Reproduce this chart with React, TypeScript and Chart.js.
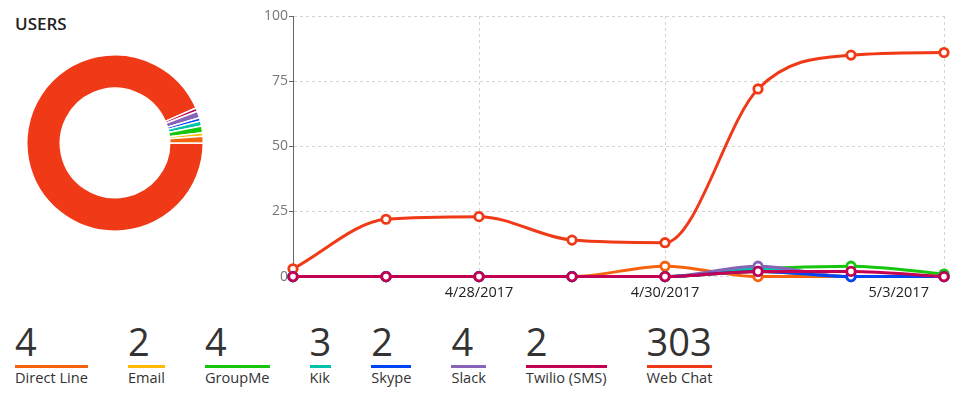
import React, { useEffect, useRef } from 'react';
import { Chart, registerables } from 'chart.js';

Chart.register(...registerables);

const channels = ['Direct Line', 'Email', 'GroupMe', 'Kik', 'Skype', 'Slack', 'Twilio (SMS)', 'Web Chat'];
const userTotals = [4, 2, 4, 3, 2, 4, 2, 303];
const channelColors = ['#F7630C', '#FFB900', '#16C60C', '#00C4A7', '#0045F5', '#8764B8', '#C30052', '#F03A17'];
// lower value = drawn on top
const drawOrder = [6, 5, 4, 3, 1, 2, 0, 10];

const dates = ['4/26/2017', '4/27/2017', '4/28/2017', '4/29/2017', '4/30/2017', '5/1/2017', '5/2/2017', '5/3/2017'];
const shownDates = ['4/28/2017', '4/30/2017', '5/3/2017'];
const yTicks = [0, 25, 50, 75, 100];

const directLine = [0, 0, 0, 0, 4, 0, 0, 0];
const email = [0, 0, 0, 0, 0, 2, 0, 0];
const groupMe = [0, 0, 0, 0, 0, 3, 4, 1];
const kik = [0, 0, 0, 0, 0, 3, 0, 0];
const skype = [0, 0, 0, 0, 0, 2, 0, 0];
const slack = [0, 0, 0, 0, 0, 4, 0, 0];
const twilio = [0, 0, 0, 0, 0, 2, 2, 0];
const webChat = [3, 22, 23, 14, 13, 72, 85, 86];
const series = [directLine, email, groupMe, kik, skype, slack, twilio, webChat];

const FONT = "'Open Sans', 'Noto Sans', sans-serif";

export default function App() {
  const donutRef = useRef<HTMLCanvasElement | null>(null);
  const lineRef = useRef<HTMLCanvasElement | null>(null);

  useEffect(() => {
    const donut = new Chart(donutRef.current as HTMLCanvasElement, {
      type: 'doughnut',
      data: {
        labels: [...channels].reverse(),
        datasets: [
          {
            data: [...userTotals].reverse(),
            backgroundColor: [...channelColors].reverse(),
            borderColor: '#ffffff',
            borderWidth: 1.5,
            hoverOffset: 0,
          },
        ],
      },
      options: {
        responsive: false,
        animation: false,
        rotation: 90,
        cutout: '62%',
        layout: { padding: 0 },
        plugins: { legend: { display: false }, tooltip: { enabled: false } },
      },
    });

    const line = new Chart(lineRef.current as HTMLCanvasElement, {
      type: 'line',
      data: {
        labels: dates,
        datasets: series.map((d, i) => ({
          label: channels[i],
          data: d,
          borderColor: channelColors[i],
          backgroundColor: channelColors[i],
          pointBackgroundColor: '#ffffff',
          pointBorderColor: channelColors[i],
          pointRadius: 4.2,
          pointBorderWidth: 2.8,
          borderWidth: 3,
          cubicInterpolationMode: 'monotone',
          fill: false,
          clip: false as any,
          order: drawOrder[i],
        })),
      },
      options: {
        responsive: false,
        maintainAspectRatio: false,
        animation: false,
        layout: { padding: { left: 0, right: 18, top: 16, bottom: 0 } },
        plugins: { legend: { display: false }, tooltip: { enabled: false } },
        scales: {
          x: {
            grid: {
              color: (c: any) => (shownDates.includes(dates[c.index]) ? '#d4d4d4' : 'rgba(0,0,0,0)'),
              drawTicks: false,
              lineWidth: 1,
            },
            border: { display: false, dash: [3, 3] },
            ticks: {
              autoSkip: false,
              maxRotation: 0,
              minRotation: 0,
              align: 'inner',
              padding: 8,
              color: '#222222',
              font: { family: FONT, size: 14.5 },
              callback: (_v: any, i: number) =>
                shownDates.includes(dates[i]) ? (i === dates.length - 1 ? dates[i] + '    ' : dates[i]) : '',
            },
          },
          y: {
            min: 0,
            max: 100,
            afterBuildTicks: (s: any) => {
              s.ticks = yTicks.map((v) => ({ value: v }));
            },
            afterFit: (s: any) => {
              s.width = 43;
            },
            grid: { color: '#d4d4d4', tickColor: '#666666', tickLength: 4, tickBorderDash: [] },
            border: { display: true, color: '#666666', width: 1, dash: [3, 3] },
            ticks: { padding: 1, color: '#777777', font: { family: FONT, size: 14 } },
          },
        },
      },
    });

    return () => {
      donut.destroy();
      line.destroy();
    };
  }, []);

  return (
    <div style={{ position: 'absolute', left: 0, top: 0, width: 962, height: 398, fontFamily: FONT, background: '#fff' }}>
      <div
        style={{
          position: 'absolute',
          left: 15,
          top: 14,
          fontSize: 17,
          fontWeight: 600,
          lineHeight: '20px',
          color: '#222',
        }}
      >
        USERS
      </div>
      <canvas
        ref={donutRef}
        width={178}
        height={178}
        style={{ position: 'absolute', left: 26, top: 54, width: 178, height: 178 }}
      />
      <canvas
        ref={lineRef}
        width={712}
        height={310}
        style={{ position: 'absolute', left: 250, top: 0, width: 712, height: 310 }}
      />
      <div style={{ position: 'absolute', left: 15, top: 321, display: 'flex', gap: 40 }}>
        {channels.map((name, i) => (
          <div key={name} style={{ display: 'flex', flexDirection: 'column' }}>
            <div style={{ fontSize: 38, lineHeight: '40px', color: '#333' }}>{userTotals[i]}</div>
            <div style={{ height: 3, marginTop: 4, background: channelColors[i] }} />
            <div style={{ fontSize: 14.6, lineHeight: '18px', color: '#333', whiteSpace: 'nowrap' }}>{name}</div>
          </div>
        ))}
      </div>
    </div>
  );
}
